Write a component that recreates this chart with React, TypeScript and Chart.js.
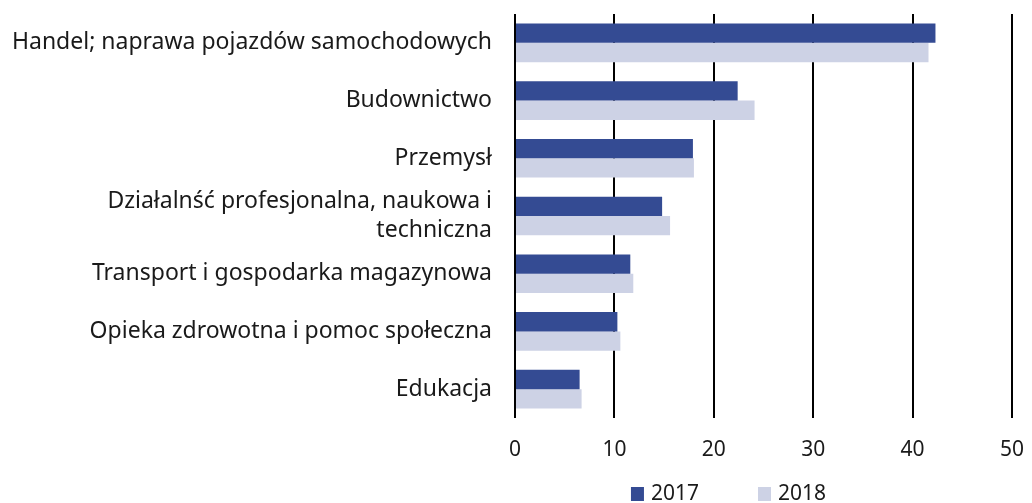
import React, { useEffect, useRef } from "react";
import { Chart, registerables } from "chart.js";

Chart.register(...registerables);

const categories: (string | string[])[] = [
  "Handel; naprawa pojazdów samochodowych",
  "Budownictwo",
  "Przemysł",
  ["Działalnść profesjonalna, naukowa i", "techniczna"],
  "Transport i gospodarka magazynowa",
  "Opieka zdrowotna i pomoc społeczna",
  "Edukacja",
];
const values2017 = [42.3, 22.4, 17.9, 14.8, 11.6, 10.3, 6.5];
const values2018 = [41.6, 24.1, 18.0, 15.6, 11.9, 10.6, 6.7];
const xTicks = [0, 10, 20, 30, 40, 50];

const FONT = "'Noto Sans', 'Open Sans', sans-serif";
const TEXT = "#1a1a1a";

const legendPlugin = {
  id: "customLegend",
  afterDraw(chart: any) {
    const ctx = chart.ctx;
    ctx.save();
    ctx.font = `21px ${FONT}`;
    ctx.textBaseline = "middle";
    ctx.textAlign = "left";
    const items = chart.data.datasets.map((d: any) => ({
      label: d.label,
      color: d.backgroundColor,
      w: ctx.measureText(d.label).width,
    }));
    const box = 13;
    const gap = 7;
    const itemGap = 59;
    const total =
      items.reduce((s: number, it: any) => s + box + gap + it.w, 0) +
      itemGap * (items.length - 1);
    let x = 728.5 - total / 2;
    const yMid = 494;
    for (const it of items) {
      ctx.fillStyle = it.color;
      ctx.fillRect(x, yMid - 7, box, 14);
      ctx.fillStyle = TEXT;
      ctx.fillText(it.label, x + box + gap, yMid);
      x += box + gap + it.w + itemGap;
    }
    ctx.restore();
  },
};

export default function App() {
  const ref = useRef<HTMLCanvasElement | null>(null);
  useEffect(() => {
    document.body.style.margin = "0";
    if (!ref.current) return;
    const chart = new Chart(ref.current, {
      type: "bar",
      data: {
        labels: categories,
        datasets: [
          {
            label: "2017",
            data: values2017,
            backgroundColor: "#344b93",
            categoryPercentage: 0.67,
            barPercentage: 1,
          },
          {
            label: "2018",
            data: values2018,
            backgroundColor: "#cdd2e5",
            categoryPercentage: 0.67,
            barPercentage: 1,
          },
        ],
      },
      options: {
        indexAxis: "y",
        animation: false,
        responsive: true,
        maintainAspectRatio: false,
        layout: { padding: { top: 14, right: 20, left: 0, bottom: 0 } },
        plugins: {
          legend: { display: false },
          tooltip: { enabled: false },
        },
        scales: {
          x: {
            min: 0,
            max: 50,
            afterBuildTicks: (scale: any) => {
              scale.ticks = xTicks.map((v) => ({ value: v }));
            },
            afterFit: (scale: any) => {
              scale.height = 85;
              scale.paddingLeft = 0;
              scale.paddingRight = 0;
            },
            grid: {
              color: "#000",
              lineWidth: 2,
              drawTicks: false,
            },
            border: { display: false },
            ticks: {
              padding: 19,
              color: TEXT,
              font: { family: FONT, size: 21 },
            },
          },
          y: {
            afterFit: (scale: any) => {
              scale.width = 515;
              scale.paddingTop = 0;
              scale.paddingBottom = 0;
            },
            grid: { display: false, drawTicks: false },
            border: { display: false },
            ticks: {
              autoSkip: false,
              padding: 23,
              color: TEXT,
              font: { family: FONT, size: 23, lineHeight: 1.26 },
            },
          },
        },
      },
      plugins: [legendPlugin],
    });
    return () => chart.destroy();
  }, []);
  return (
    <div style={{ width: 1032, height: 503, position: "relative" }}>
      <canvas ref={ref} />
    </div>
  );
}
